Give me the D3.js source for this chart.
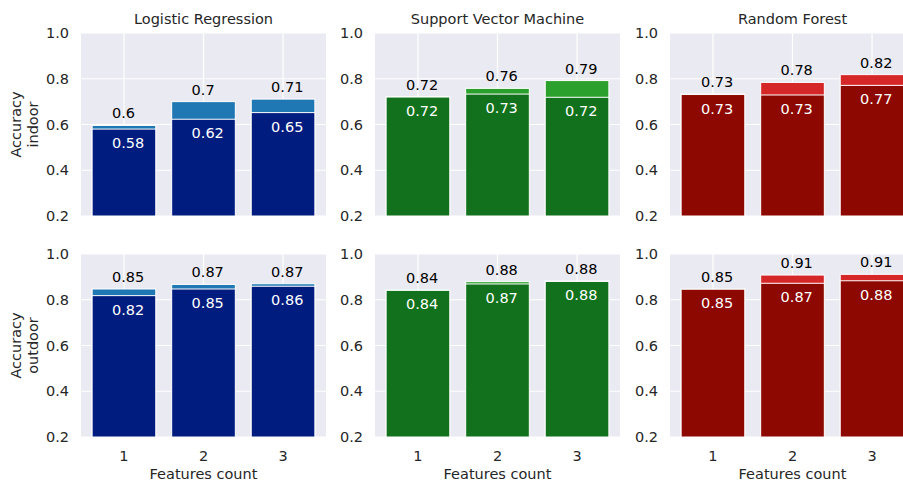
<!DOCTYPE html>
<html>
<head>
<meta charset="utf-8">
<script src="https://cdn.jsdelivr.net/npm/d3@7"></script>
<style>
  body { margin: 0; background: #fff; }
  text { font-family: "DejaVu Sans", sans-serif; }
</style>
</head>
<body>
<div id="chart"></div>
<script>
"use strict";

var models = ["Logistic Regression", "Support Vector Machine", "Random Forest"];
var features = [1, 2, 3];
var rowLabels = [["Accuracy", "indoor"], ["Accuracy", "outdoor"]];
var yTicks = [0.2, 0.4, 0.6, 0.8, 1.0];

// best (light) and mean (dark) accuracy per model, per feature count
var indoorMax   = [[0.596, 0.700, 0.711], [0.722, 0.758, 0.792], [0.733, 0.784, 0.818]];
var indoorMean  = [[0.580, 0.623, 0.652], [0.720, 0.733, 0.719], [0.731, 0.729, 0.771]];
var outdoorMax  = [[0.847, 0.867, 0.870], [0.843, 0.879, 0.882], [0.846, 0.908, 0.911]];
var outdoorMean = [[0.818, 0.847, 0.859], [0.841, 0.869, 0.880], [0.846, 0.872, 0.883]];

var lightColors = ["#1f77b4", "#2ca02c", "#d62728"];
var darkColors  = ["#001c7f", "#12711c", "#8c0800"];

var W = 903, H = 482;
var colLeft = [81, 375, 670];
var rowTop = [33, 254];
var axW = 245, axH = 183;

var svg = d3.select("#chart").append("svg")
    .attr("width", W)
    .attr("height", H);

var x = d3.scaleLinear().domain([-0.54, 2.54]).range([0, axW]);
var y = d3.scaleLinear().domain([0.2, 1.0]).range([axH, 0]);
var fmt = function(v){ return String(+v.toFixed(2)); };

var rows = [[indoorMax, indoorMean], [outdoorMax, outdoorMean]];

rows.forEach(function(rowData, r){
    models.forEach(function(m, c){
        var maxVals = rowData[0][c], meanVals = rowData[1][c];
        var g = svg.append("g")
            .attr("transform", "translate(" + colLeft[c] + "," + rowTop[r] + ")");

        g.append("rect")
            .attr("width", axW)
            .attr("height", axH)
            .attr("fill", "#eaeaf2");

        // grid
        g.selectAll("line.hg").data(yTicks).enter()
            .append("line")
                .attr("x1", 0).attr("x2", axW)
                .attr("y1", function(d){ return y(d); })
                .attr("y2", function(d){ return y(d); })
                .attr("stroke", "white")
                .attr("stroke-width", 1.2);
        g.selectAll("line.vg").data(features).enter()
            .append("line")
                .attr("x1", function(d, i){ return x(i); })
                .attr("x2", function(d, i){ return x(i); })
                .attr("y1", 0).attr("y2", axH)
                .attr("stroke", "white")
                .attr("stroke-width", 1.2);

        // light bars (max)
        g.selectAll("rect.max").data(maxVals).enter()
            .append("rect")
                .attr("x", function(d, i){ return x(i - 0.4); })
                .attr("width", x(0.8) - x(0))
                .attr("y", function(d){ return y(d); })
                .attr("height", function(d){ return axH - y(d); })
                .attr("fill", lightColors[c])
                .attr("stroke", "white")
                .attr("stroke-width", 1);

        // dark bars (mean)
        g.selectAll("rect.mean").data(meanVals).enter()
            .append("rect")
                .attr("x", function(d, i){ return x(i - 0.4); })
                .attr("width", x(0.8) - x(0))
                .attr("y", function(d){ return y(d); })
                .attr("height", function(d){ return axH - y(d); })
                .attr("fill", darkColors[c])
                .attr("stroke", "white")
                .attr("stroke-width", 1);

        g.selectAll("text.maxl").data(maxVals).enter()
            .append("text")
                .attr("x", function(d, i){ return x(i - 0.15); })
                .attr("y", function(d){ return y(d) - 7; })
                .attr("font-size", "14.5px")
                .attr("fill", "black")
                .text(fmt);

        g.selectAll("text.meanl").data(meanVals).enter()
            .append("text")
                .attr("x", function(d, i){ return x(i - 0.15); })
                .attr("y", function(d){ return y(d) + 19; })
                .attr("font-size", "14.5px")
                .attr("fill", "white")
                .text(fmt);

        // y ticks
        g.selectAll("text.yt").data(yTicks).enter()
            .append("text")
                .attr("x", -12)
                .attr("y", function(d){ return y(d); })
                .attr("dy", "0.35em")
                .attr("text-anchor", "end")
                .attr("font-size", "14.5px")
                .attr("fill", "#262626")
                .text(function(d){ return d.toFixed(1); });

        if (r === 0) {
            g.append("text")
                .attr("x", axW / 2)
                .attr("y", -9)
                .attr("text-anchor", "middle")
                .attr("font-size", "14.5px")
                .attr("fill", "#262626")
                .text(m);
        } else {
            g.selectAll("text.xt").data(features).enter()
                .append("text")
                    .attr("x", function(d, i){ return x(i); })
                    .attr("y", axH + 24)
                    .attr("text-anchor", "middle")
                    .attr("font-size", "14.5px")
                    .attr("fill", "#262626")
                    .text(function(d){ return d; });
            g.append("text")
                .attr("x", axW / 2)
                .attr("y", axH + 42)
                .attr("text-anchor", "middle")
                .attr("font-size", "14.5px")
                .attr("fill", "#262626")
                .text("Features count");
        }

        if (c === 0) {
            var yl = g.append("text")
                .attr("transform", "translate(-55," + (axH / 2) + ") rotate(-90)")
                .attr("text-anchor", "middle")
                .attr("font-size", "14.5px")
                .attr("fill", "#262626");
            yl.append("tspan").attr("x", 0).attr("dy", "-0.35em").text(rowLabels[r][0]);
            yl.append("tspan").attr("x", 0).attr("dy", "1.15em").text(rowLabels[r][1]);
        }
    });
});
</script>
</body>
</html>
